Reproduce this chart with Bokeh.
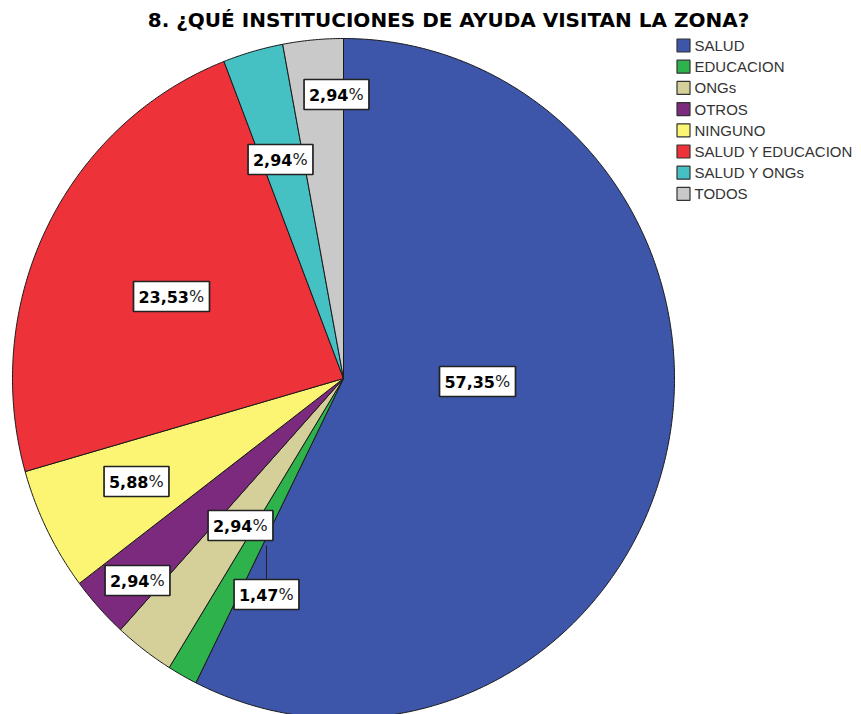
from bokeh.plotting import figure
from bokeh.models import Range1d
from bokeh.embed import file_html
from bokeh.resources import INLINE
from bokeh.core.properties import value
import numpy as np

# ---- data ----
categories = ["SALUD", "EDUCACION", "ONGs", "OTROS", "NINGUNO",
              "SALUD Y EDUCACION", "SALUD Y ONGs", "TODOS"]
percents = [57.35, 1.47, 2.94, 2.94, 5.88, 23.53, 2.94, 2.94]
label_texts = ["57,35", "1,47", "2,94", "2,94", "5,88", "23,53", "2,94", "2,94"]
colors = ["#3D56A9", "#2EB24B", "#D5CF9A", "#7B2A7E", "#FBF573",
          "#EE3239", "#45C0C3", "#C9C9C9"]
title_text = "8. ¿QUÉ INSTITUCIONES DE AYUDA VISITAN LA ZONA?"

# ---- layout (screenshot pixel coordinates) ----
W, H = 861, 714
CX, CY, RX, RY = 343, 378, 331, 340
label_pos = [(477, 381), (266, 594), (240, 525), (137, 580),
             (136, 481), (171, 296), (280, 159), (336, 94)]
leader = {1: (545, 579)}  # vertical leader for EDUCACION label
LEG_X, LEG_Y0, LEG_DY = 683, 45, 21.2

p = figure(width=W, height=H, output_backend="svg", toolbar_location=None,
           x_range=Range1d(0, W), y_range=Range1d(H, 0),
           min_border=0, outline_line_color=None)
p.axis.visible = False
p.grid.visible = False
p.background_fill_color = "white"

# wedges as patches (ellipse slightly taller than wide)
tot = sum(percents)
cum = np.concatenate([[0], np.cumsum(percents)]) / tot * 2 * np.pi
xs, ys = [], []
for i in range(len(percents)):
    t = np.linspace(cum[i], cum[i + 1], max(4, int(percents[i] * 8)))
    xs.append([CX] + list(CX + RX * np.sin(t)) + [CX])
    ys.append([CY] + list(CY - RY * np.cos(t)) + [CY])
p.patches(xs, ys, fill_color=colors, line_color="#1a1a1a", line_width=1)

# leader line
for i, (y0, y1) in leader.items():
    lx = label_pos[i][0]
    p.line([lx, lx], [y0, y1], line_color="#222222", line_width=1)

# labels
NUMW_DIGIT, NUMW_COMMA, PCTW, PAD = 11.1, 6.1, 15.5, 5
bx, by, bw, ax = [], [], [], []
for (lx, ly), t in zip(label_pos, label_texts):
    nd = sum(c.isdigit() for c in t)
    numw = nd * NUMW_DIGIT + NUMW_COMMA
    w = numw + PCTW + 2 * PAD
    bx.append(lx); by.append(ly); bw.append(w)
    ax.append(lx - w / 2 + PAD + numw)
p.rect(bx, by, width=bw, height=30, fill_color="white",
       line_color="#222222", line_width=1.7)
ly = [q[1] for q in label_pos]
p.text(ax, ly, text=label_texts, text_align="right", text_baseline="middle",
       text_font=value("DejaVu Sans"), text_font_style="bold",
       text_font_size="16px", text_color="black")
p.text(ax, ly, text=["%"] * len(ax), text_align="left", text_baseline="middle",
       text_font=value("DejaVu Sans"), text_font_size="16px", text_color="#222222")

# title
p.text([448], [19], text=[title_text], text_align="center", text_baseline="middle",
       text_font=value("DejaVu Sans"), text_font_style="bold",
       text_font_size="20px", text_color="black")

# legend
leg_y = [LEG_Y0 + i * LEG_DY for i in range(len(categories))]
p.rect([LEG_X] * len(categories), leg_y, width=13, height=13,
       fill_color=colors, line_color="#333333", line_width=1.2)
p.text([LEG_X + 11] * len(categories), leg_y, text=categories,
       text_align="left", text_baseline="middle",
       text_font=value("Liberation Sans"), text_font_size="15px",
       text_color="#333333")

open("out.html", "w").write(file_html(p, INLINE))
